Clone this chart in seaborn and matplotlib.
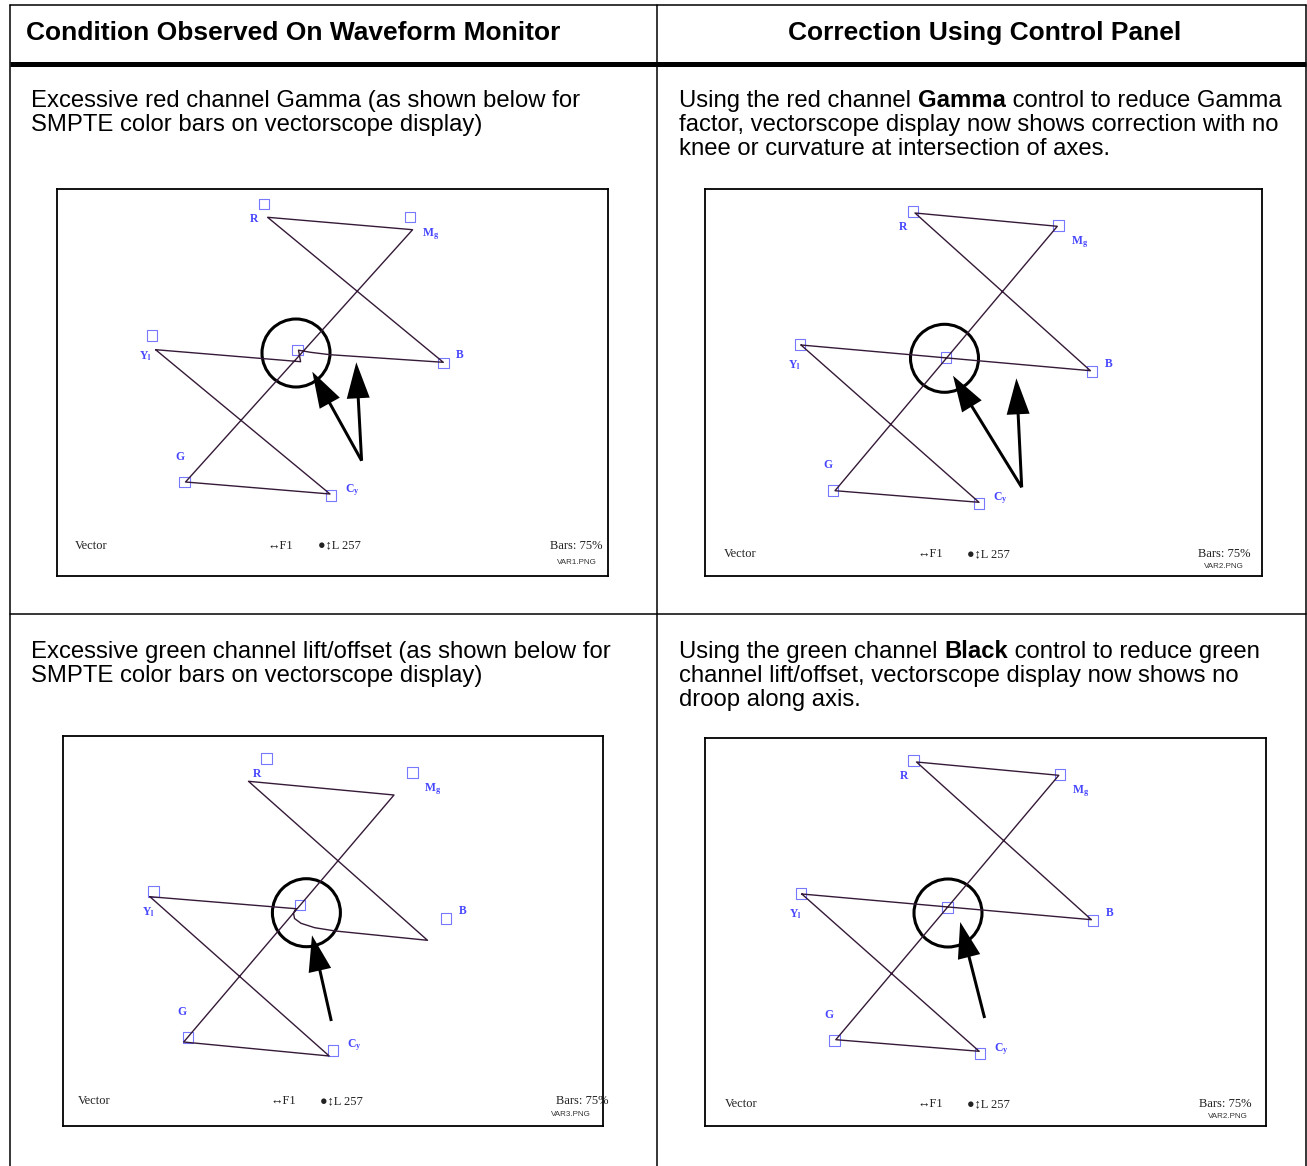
import matplotlib
matplotlib.use("Agg")
import matplotlib.pyplot as plt
import seaborn as sns
import pandas as pd
from matplotlib.patches import Circle, FancyArrow

# ---------------- data (panel-local pixel units) ----------------
NAMES = ["R", "Mg", "B", "Cy", "G", "Yl"]
LABEL_TEXT = ["R", r"$\mathbf{M}_\mathbf{g}$", "B", r"$\mathbf{C}_\mathbf{y}$", "G", r"$\mathbf{Y}_\mathbf{l}$"]

# panel boxes: x0, y0, w, h
P1_BOX = [57, 189, 551, 387]
P2_BOX = [705, 189, 557, 387]
P3_BOX = [63, 736, 540, 390]
P4_BOX = [705, 738, 561, 388]

# trace order: Yl -> Cy -> G -> Mg -> R -> B -> (centre knee) -> Yl
P1_TRACE_X = [98.6, 273.0, 128.5, 355.6, 210.6, 386.3, 272.9, 253.5, 241.5, 243.6, 98.6]
P1_TRACE_Y = [160.7, 305.0, 293.0, 40.7, 28.3, 173.3, 165.7, 163.3, 161.2, 172.7, 160.7]
P2_TRACE_X = [96.0, 274.0, 130.0, 352.3, 210.0, 385.4, 96.0]
P2_TRACE_Y = [156.0, 313.3, 301.7, 37.3, 24.0, 181.7, 156.0]
P3_TRACE_X = [86.9, 266.2, 120.7, 331.0, 185.5, 364.5, 272.4, 251.7, 238.0, 231.5, 230.5, 233.0, 86.9]
P3_TRACE_Y = [160.7, 320.0, 306.0, 59.0, 45.3, 204.3, 195.0, 191.7, 187.3, 182.5, 177.0, 172.7, 160.7]
P4_TRACE_X = [96.8, 274.2, 130.8, 353.8, 211.5, 386.4, 96.8]
P4_TRACE_Y = [156.0, 313.3, 301.7, 37.3, 24.0, 181.7, 156.0]

# target boxes: R, Mg, B, Cy, G, Yl, centre
P1_TARGET_X = [207.0, 353.0, 386.3, 274.0, 127.5, 95.0, 240.5]
P1_TARGET_Y = [15.0, 28.0, 174.0, 306.7, 293.0, 146.7, 161.0]
P2_TARGET_X = [207.8, 353.4, 387.0, 274.0, 128.0, 95.0, 241.0]
P2_TARGET_Y = [22.7, 36.7, 182.7, 314.3, 301.7, 155.3, 168.7]
P3_TARGET_X = [203.4, 349.3, 382.8, 270.0, 124.8, 90.7, 236.9]
P3_TARGET_Y = [22.7, 36.7, 182.7, 314.3, 301.7, 155.3, 169.0]
P4_TARGET_X = [208.6, 354.8, 387.8, 275.0, 129.7, 96.0, 242.6]
P4_TARGET_Y = [22.7, 36.7, 182.7, 315.7, 302.3, 155.3, 169.7]

# label positions: R, Mg, B, Cy, G, Yl
P1_LABEL_X = [197.0, 374.0, 402.5, 295.0, 122.5, 88.0]
P1_LABEL_Y = [30.0, 45.0, 166.0, 301.0, 267.7, 167.5]
P2_LABEL_X = [198.0, 375.0, 404.0, 295.0, 123.0, 89.0]
P2_LABEL_Y = [38.0, 53.5, 175.0, 309.0, 276.0, 176.0]
P3_LABEL_X = [193.8, 369.5, 399.3, 291.5, 119.0, 85.0]
P3_LABEL_Y = [38.3, 53.5, 175.0, 309.0, 276.0, 176.0]
P4_LABEL_X = [198.6, 376.0, 404.3, 296.5, 124.4, 90.0]
P4_LABEL_Y = [38.3, 53.5, 175.0, 311.0, 276.7, 176.0]

# highlight circle (cx, cy, r) and arrows (tail -> tip)
P1_CIRCLE = [239.0, 164.0, 34.0]
P2_CIRCLE = [239.5, 169.3, 34.0]
P3_CIRCLE = [243.4, 176.7, 34.0]
P4_CIRCLE = [243.0, 175.0, 34.0]
P1_ARROWS = [[304.6, 271.7, 255.3, 182.7], [304.6, 271.7, 299.3, 173.3]]
P2_ARROWS = [[316.7, 298.3, 248.0, 186.7], [316.7, 298.3, 311.4, 189.3]]
P3_ARROWS = [[268.3, 285.0, 249.0, 199.3]]
P4_ARROWS = [[279.6, 280.0, 255.2, 184.0]]

# status line: vector-x, fl-x, line-x, bars-x(right), file-x(right), row-y, file-y
P1_STATUS = [18.0, 210.6, 260.6, 545.0, 539.5, 356.7, 374.0]
P2_STATUS = [18.5, 212.0, 261.6, 545.5, 539.0, 365.0, 377.0]
P3_STATUS = [14.5, 207.6, 257.0, 545.0, 528.3, 365.0, 379.0]
P4_STATUS = [19.7, 212.0, 262.4, 546.6, 543.0, 366.0, 378.0]
FILE_NAMES = ["VAR1.PNG", "VAR2.PNG", "VAR3.PNG", "VAR2.PNG"]

HEADERS = ["Condition Observed On Waveform Monitor", "Correction Using Control Panel"]
ROW1_LEFT = [[("Excessive red channel Gamma (as shown below for", "normal")],
             [("SMPTE color bars on vectorscope display)", "normal")]]
ROW1_RIGHT = [[("Using the red channel ", "normal"), ("Gamma", "bold"), (" control to reduce Gamma", "normal")],
              [("factor, vectorscope display now shows correction with no", "normal")],
              [("knee or curvature at intersection of axes.", "normal")]]
ROW2_LEFT = [[("Excessive green channel lift/offset (as shown below for", "normal")],
             [("SMPTE color bars on vectorscope display)", "normal")]]
ROW2_RIGHT = [[("Using the green channel ", "normal"), ("Black", "bold"), (" control to reduce green", "normal")],
              [("channel lift/offset, vectorscope display now shows no", "normal")],
              [("droop along axis.", "normal")]]

# ---------------- styling ----------------
sns.set_style("white")
plt.rcParams["font.family"] = ["Liberation Sans", "DejaVu Sans"]
plt.rcParams["text.color"] = "black"
plt.rcParams["mathtext.fontset"] = "custom"
plt.rcParams["mathtext.rm"] = "Liberation Serif"
plt.rcParams["mathtext.bf"] = "Liberation Serif:bold"
plt.rcParams["mathtext.it"] = "Liberation Serif:italic"

W, H = 1307, 1166
fig = plt.figure(figsize=(W / 100, H / 100), dpi=100)
fig.patch.set_facecolor("white")
bg = fig.add_axes([0, 0, 1, 1])
bg.set_xlim(0, W)
bg.set_ylim(H, 0)
bg.axis("off")

# table rules
LW = 1.1
bg.plot([10, 1306], [5, 5], color="black", lw=LW)
bg.plot([10, 10], [5, H], color="black", lw=LW)
bg.plot([1306, 1306], [5, H], color="black", lw=LW)
bg.plot([657, 657], [5, H], color="black", lw=LW)
bg.plot([10, 1306], [64, 64], color="black", lw=3.6, solid_capstyle="butt")
bg.plot([10, 1306], [614, 614], color="black", lw=LW)

HFS = 19.0
FS = 17.2
bg.text(26, 40.0, HEADERS[0], fontsize=HFS, fontweight="bold", ha="left", va="baseline", color="black")
bg.text(984.5, 40.0, HEADERS[1], fontsize=HFS, fontweight="bold", ha="center", va="baseline", color="black")

renderer = fig.canvas.get_renderer()


def rich_lines(x0, y0, lines, spacing=24.0):
    for i, parts in enumerate(lines):
        x = x0
        y = y0 + i * spacing
        for txt, weight in parts:
            t = bg.text(x, y, txt, fontsize=FS, fontweight=weight, ha="left", va="baseline", color="black")
            bb = t.get_window_extent(renderer=renderer)
            x += bb.width


rich_lines(31, 107.0, ROW1_LEFT)
rich_lines(679, 107.0, ROW1_RIGHT)
rich_lines(31, 658.0, ROW2_LEFT)
rich_lines(679, 658.0, ROW2_RIGHT)

TRACE_COLOR = "#351a38"
TARGET_COLOR = "#7878ff"
LABEL_COLOR = "#4646ff"
SERIF = ["Liberation Serif", "DejaVu Serif", "DejaVu Sans"]

panels = [
    (P1_BOX, P1_TRACE_X, P1_TRACE_Y, P1_TARGET_X, P1_TARGET_Y, P1_LABEL_X, P1_LABEL_Y, P1_CIRCLE, P1_ARROWS, P1_STATUS, FILE_NAMES[0]),
    (P2_BOX, P2_TRACE_X, P2_TRACE_Y, P2_TARGET_X, P2_TARGET_Y, P2_LABEL_X, P2_LABEL_Y, P2_CIRCLE, P2_ARROWS, P2_STATUS, FILE_NAMES[1]),
    (P3_BOX, P3_TRACE_X, P3_TRACE_Y, P3_TARGET_X, P3_TARGET_Y, P3_LABEL_X, P3_LABEL_Y, P3_CIRCLE, P3_ARROWS, P3_STATUS, FILE_NAMES[2]),
    (P4_BOX, P4_TRACE_X, P4_TRACE_Y, P4_TARGET_X, P4_TARGET_Y, P4_LABEL_X, P4_LABEL_Y, P4_CIRCLE, P4_ARROWS, P4_STATUS, FILE_NAMES[3]),
]

for box, tx, ty, gx, gy, lx, ly, circ, arrows, status, fname in panels:
    x0, y0, w, h = box
    ax = fig.add_axes([x0 / W, 1 - (y0 + h) / H, w / W, h / H])
    ax.set_xlim(0, w)
    ax.set_ylim(h, 0)
    ax.set_facecolor("white")
    ax.set_xticks([])
    ax.set_yticks([])
    for sp in ax.spines.values():
        sp.set_visible(True)
        sp.set_color("black")
        sp.set_linewidth(1.3)

    trace = pd.DataFrame({"x": tx, "y": ty})
    sns.lineplot(data=trace, x="x", y="y", sort=False, estimator=None, ax=ax,
                 color=TRACE_COLOR, lw=1.0, legend=False)

    targets = pd.DataFrame({"x": gx, "y": gy})
    sns.scatterplot(data=targets, x="x", y="y", ax=ax, marker="s", s=58,
                    facecolor="none", edgecolor=TARGET_COLOR, linewidth=0.8, legend=False)

    for name, txt, px, py in zip(NAMES, LABEL_TEXT, lx, ly):
        ax.text(px, py, txt, color=LABEL_COLOR, fontsize=8.4, fontweight="bold",
                family=SERIF, ha="center", va="center")

    ax.add_patch(Circle((circ[0], circ[1]), circ[2], fill=False, lw=2.2, color="black"))
    for a in arrows:
        ax.add_patch(FancyArrow(a[0], a[1], a[2] - a[0], a[3] - a[1], width=3.0,
                                head_width=23, head_length=36, length_includes_head=True,
                                color="black", lw=0))

    vx, fx, lxx, bx, filex, ry, fy = status
    sfs = 9.0
    ax.text(vx, ry, "Vector", fontsize=sfs, family=SERIF, color="#222222", ha="left", va="center")
    ax.text(fx, ry, "\u2194F1", fontsize=sfs, family=SERIF, color="#222222", ha="left", va="center")
    ax.text(lxx, ry, "\u25CF\u2195L 257", fontsize=sfs, family=SERIF, color="#222222", ha="left", va="center")
    if fname == "VAR3.PNG":
        ax.text(493.0, ry, "Bars: 75%", fontsize=sfs, family=SERIF, color="#222222",
                ha="left", va="center", clip_on=False)
    else:
        ax.text(bx, ry, "Bars: 75%", fontsize=sfs, family=SERIF, color="#222222", ha="right", va="center")
    ax.text(filex, fy, fname, fontsize=5.8, color="#333333", ha="right", va="center")
    ax.set_xlabel("")
    ax.set_ylabel("")

fig.savefig("out.png", dpi=100)
